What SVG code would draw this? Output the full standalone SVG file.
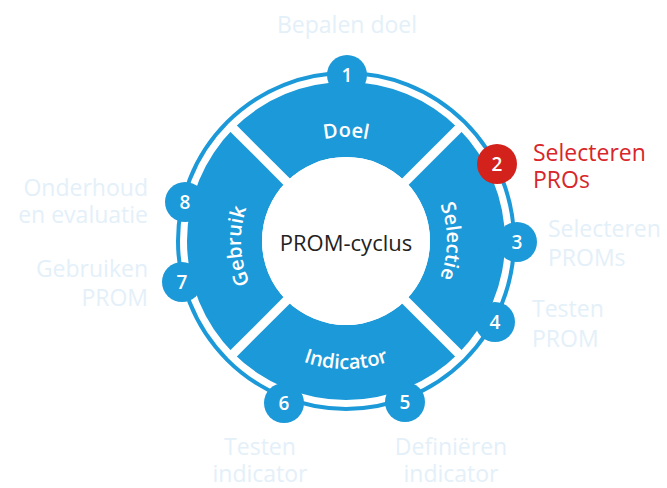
<svg xmlns="http://www.w3.org/2000/svg" width="667" height="488" viewBox="0 0 667 488">
<style>
.sec{fill:#1c99d8}
.sep{stroke:#fff;stroke-width:9;fill:none}
.ring{fill:none;stroke:#1c99d8;stroke-width:4}
.bub{fill:#1c99d8}
.red{fill:#d3221c}
.num{font-family:"Open Sans","Noto Sans",sans-serif;font-size:19px;font-weight:600;fill:#fff;text-anchor:middle}
.lab{font-family:"Open Sans","Noto Sans",sans-serif;font-size:20px;font-weight:600;fill:#fff}
.ext{font-family:"Open Sans","Noto Sans",sans-serif;font-size:23px;fill:#e4f0f9}
.exr{font-family:"Open Sans","Noto Sans",sans-serif;font-size:23px;fill:#d8262a}
.ctr{font-family:"Open Sans","Noto Sans",sans-serif;font-size:22px;fill:#222;text-anchor:middle}
</style>
<defs>
<path id="pDoel" d="M272.46,167.46 A104,104 0 0 1 419.54,167.46"/>
<path id="pSel" d="M417.42,169.58 A101,101 0 0 1 417.42,312.42"/>
<path id="pInd" d="M255.49,331.51 A128,128 0 0 0 436.51,331.51"/>
<path id="pGeb" d="M271.75,315.25 A105,105 0 0 1 271.75,166.75"/>
</defs>
<rect width="667" height="488" fill="#fff"/>
<g id="sector-doel">
<path class="sec" d="M233.57,128.57 A159,159 0 0 1 458.43,128.57 L405.40,181.60 A84,84 0 0 0 286.60,181.60 Z"/>
<text class="lab"><textPath href="#pDoel" startOffset="50%" text-anchor="middle">Doel</textPath></text>
</g>
<g id="sector-selectie">
<path class="sec" d="M458.43,128.57 A159,159 0 0 1 458.43,353.43 L405.40,300.40 A84,84 0 0 0 405.40,181.60 Z"/>
<text class="lab"><textPath href="#pSel" startOffset="50%" text-anchor="middle">Selectie</textPath></text>
</g>
<g id="sector-indicator">
<path class="sec" d="M458.43,353.43 A159,159 0 0 1 233.57,353.43 L286.60,300.40 A84,84 0 0 0 405.40,300.40 Z"/>
<text class="lab"><textPath href="#pInd" startOffset="50%" text-anchor="middle">Indicator</textPath></text>
</g>
<g id="sector-gebruik">
<path class="sec" d="M233.57,353.43 A159,159 0 0 1 233.57,128.57 L286.60,181.60 A84,84 0 0 0 286.60,300.40 Z"/>
<text class="lab"><textPath href="#pGeb" startOffset="47%" text-anchor="middle">Gebruik</textPath></text>
</g>
<g id="separators">
<line class="sep" x1="231.45" y1="126.45" x2="288" y2="183"/>
<line class="sep" x1="460.55" y1="126.45" x2="404" y2="183"/>
<line class="sep" x1="231.45" y1="355.55" x2="288" y2="299"/>
<line class="sep" x1="460.55" y1="355.55" x2="404" y2="299"/>
</g>
<g id="center">
<circle cx="346" cy="241" r="84" fill="#fff"/>
<text class="ctr" x="346" y="251">PROM-cyclus</text>
</g>
<g id="connectors">
<circle class="ring" cx="346" cy="241" r="168"/>
</g>
<g id="step1"><circle class="bub" cx="347" cy="75" r="20"/><text class="num" x="347" y="82">1</text><text class="ext" x="347" y="33" text-anchor="middle">Bepalen doel</text></g>
<g id="step2"><circle class="red" cx="497" cy="164" r="20"/><text class="num" x="497" y="171">2</text><text class="exr" x="533" y="161">Selecteren</text><text class="exr" x="533" y="188">PROs</text></g>
<g id="step3"><circle class="bub" cx="517" cy="242" r="20"/><text class="num" x="517" y="249">3</text><text class="ext" x="548" y="237">Selecteren</text><text class="ext" x="548" y="266">PROMs</text></g>
<g id="step4"><circle class="bub" cx="495" cy="322" r="20"/><text class="num" x="495" y="329">4</text><text class="ext" x="532" y="317">Testen</text><text class="ext" x="532" y="347">PROM</text></g>
<g id="step5"><circle class="bub" cx="405" cy="402" r="20"/><text class="num" x="405" y="409">5</text><text class="ext" x="451" y="455" text-anchor="middle">Definiëren</text><text class="ext" x="451" y="482" text-anchor="middle">indicator</text></g>
<g id="step6"><circle class="bub" cx="284" cy="403" r="20"/><text class="num" x="284" y="410">6</text><text class="ext" x="260" y="455" text-anchor="middle">Testen</text><text class="ext" x="260" y="482" text-anchor="middle">indicator</text></g>
<g id="step7"><circle class="bub" cx="182" cy="282" r="20"/><text class="num" x="182" y="289">7</text><text class="ext" x="148" y="277" text-anchor="end">Gebruiken</text><text class="ext" x="148" y="306" text-anchor="end">PROM</text></g>
<g id="step8"><circle class="bub" cx="185" cy="202" r="20"/><text class="num" x="185" y="209">8</text><text class="ext" x="148" y="196" text-anchor="end">Onderhoud</text><text class="ext" x="148" y="223" text-anchor="end">en evaluatie</text></g>
</svg>
